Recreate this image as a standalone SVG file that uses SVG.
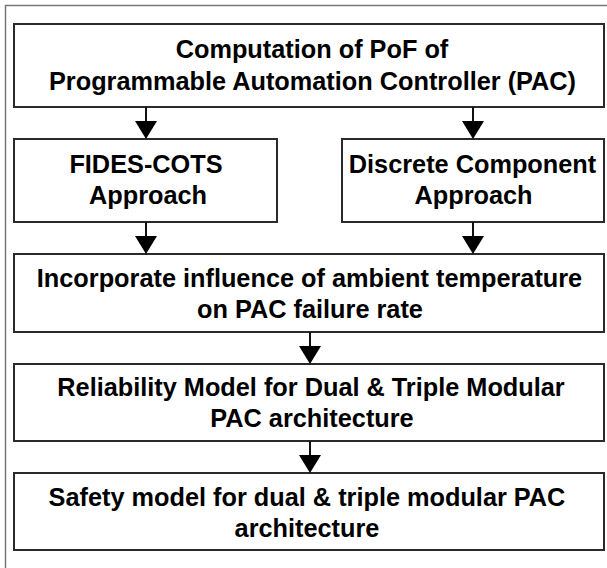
<svg xmlns="http://www.w3.org/2000/svg" width="607" height="568" viewBox="0 0 607 568">
<style>
.box{fill:#fff;stroke:#2a2a2a;stroke-width:2}
.t{font-family:"Liberation Sans",Arial,sans-serif;font-weight:bold;font-size:25.3px;fill:#000;text-anchor:middle}
.ln{stroke:#111;stroke-width:2}
.hd{fill:#000}
</style>
<rect width="607" height="568" fill="#fff"/>
<path d="M5.5,568 V5.5 H607" fill="none" stroke="#777" stroke-width="1.5"/>
<g id="n1"><rect class="box" x="14" y="24" width="590" height="83"/>
<text class="t" x="312" y="58">Computation of PoF of</text>
<text class="t" x="312.5" y="90">Programmable Automation Controller (PAC)</text></g>
<g id="n2"><rect class="box" x="14" y="139" width="263" height="83"/>
<text class="t" x="146" y="173">FIDES-COTS</text>
<text class="t" x="148" y="204">Approach</text></g>
<g id="n3"><rect class="box" x="342" y="139" width="262" height="83"/>
<text class="t" x="472.5" y="173">Discrete Component</text>
<text class="t" x="473.5" y="204">Approach</text></g>
<g id="n4"><rect class="box" x="14" y="254" width="590" height="78"/>
<text class="t" x="309.5" y="287">Incorporate influence of ambient temperature</text>
<text class="t" x="310" y="318">on PAC failure rate</text></g>
<g id="n5"><rect class="box" x="14" y="364" width="590" height="77"/>
<text class="t" x="311" y="396">Reliability Model for Dual &amp; Triple Modular</text>
<text class="t" x="312" y="427">PAC architecture</text></g>
<g id="n6"><rect class="box" x="14" y="473" width="590" height="77"/>
<text class="t" x="307" y="506">Safety model for dual &amp; triple modular PAC</text>
<text class="t" x="307" y="537">architecture</text></g>
<g id="connectors">
<line class="ln" x1="146" y1="107" x2="146" y2="122"/><polygon class="hd" points="135,121 157,121 146,139"/>
<line class="ln" x1="473" y1="107" x2="473" y2="122"/><polygon class="hd" points="462,121 484,121 473,139"/>
<line class="ln" x1="146" y1="222" x2="146" y2="237"/><polygon class="hd" points="135,236 157,236 146,254"/>
<line class="ln" x1="473" y1="222" x2="473" y2="237"/><polygon class="hd" points="462,236 484,236 473,254"/>
<line class="ln" x1="310" y1="332" x2="310" y2="347"/><polygon class="hd" points="299,346 321,346 310,364"/>
<line class="ln" x1="310" y1="441" x2="310" y2="456"/><polygon class="hd" points="299,455 321,455 310,473"/>
</g>
</svg>
